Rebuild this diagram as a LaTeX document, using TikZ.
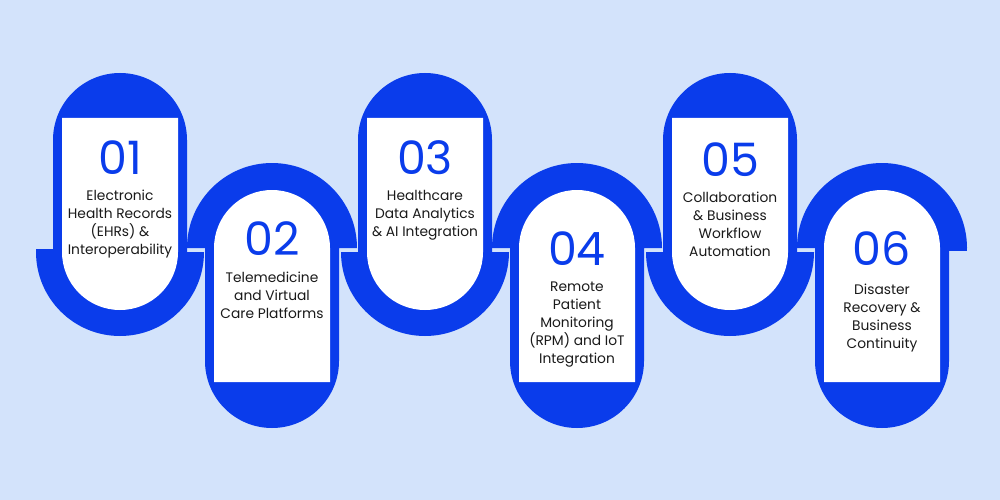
\documentclass[tikz,border=0pt]{standalone}
\usepackage{fontspec}
\setmainfont{Poppins}
\definecolor{bg}{HTML}{D3E3FB}
\definecolor{bl}{HTML}{0A3CEB}
\definecolor{tx}{HTML}{1A1A1A}
\begin{document}
\begin{tikzpicture}[x=1pt,y=-1pt,
  num/.style={text=bl,font=\fontsize{46}{46}\selectfont,inner sep=0pt},
  lab/.style={text=tx,font=\fontsize{13.8}{18}\selectfont,align=center,inner sep=0pt,anchor=north}]
\fill[bg] (0,0) rectangle (1000,500);
\useasboundingbox (0,0) rectangle (1000,500);
% odd items
\foreach \x in {120,425,730}{
  \fill[bl] (\x-84,252) arc[start angle=180,end angle=360,x radius=84,y radius=-84]
    -- (\x+67,252) -- (\x+67,140) arc[start angle=0,end angle=180,x radius=67,y radius=-67]
    -- (\x-67,252) -- cycle;
  \fill[white] (\x-58,118) -- (\x+58,118) -- (\x+58,252)
    arc[start angle=0,end angle=-180,x radius=58,y radius=-58] -- cycle;
}
% even items
\foreach \x in {272,577,882}{
  \fill[bl] (\x-85,248) arc[start angle=180,end angle=0,x radius=85,y radius=-85]
    -- (\x+67,248) -- (\x+67,361) arc[start angle=0,end angle=-180,x radius=67,y radius=-67]
    -- (\x-67,248) -- cycle;
  \fill[white] (\x-58,382) -- (\x-58,248) arc[start angle=180,end angle=0,x radius=58,y radius=-58]
    -- (\x+58,382) -- cycle;
}
% band ends
\fill[bl] (36,249) rectangle (62,252);
\fill[bl] (941,248) rectangle (967,251);
\node[num] (n1) at (120,158) {01};
\node[lab] (t1) at (120,190) {Electronic\\Health Records\\(EHRs) \&\\Interoperability};
\node[num] (n2) at (272,239) {02};
\node[lab] (t2) at (272,272) {Telemedicine\\and Virtual\\Care Platforms};
\node[num] (n3) at (425,158) {03};
\node[lab] (t3) at (425,190) {Healthcare\\Data Analytics\\\& AI Integration};
\node[num] (n4) at (577,249) {04};
\node[lab] (t4) at (577,282) {Remote\\Patient\\Monitoring\\(RPM) and IoT\\Integration};
\node[num] (n5) at (730,160) {05};
\node[lab] (t5) at (730,192) {Collaboration\\\& Business\\Workflow\\Automation};
\node[num] (n6) at (882,249) {06};
\node[lab] (t6) at (882,284) {Disaster\\Recovery \&\\Business\\Continuity};
\end{tikzpicture}
\end{document}
